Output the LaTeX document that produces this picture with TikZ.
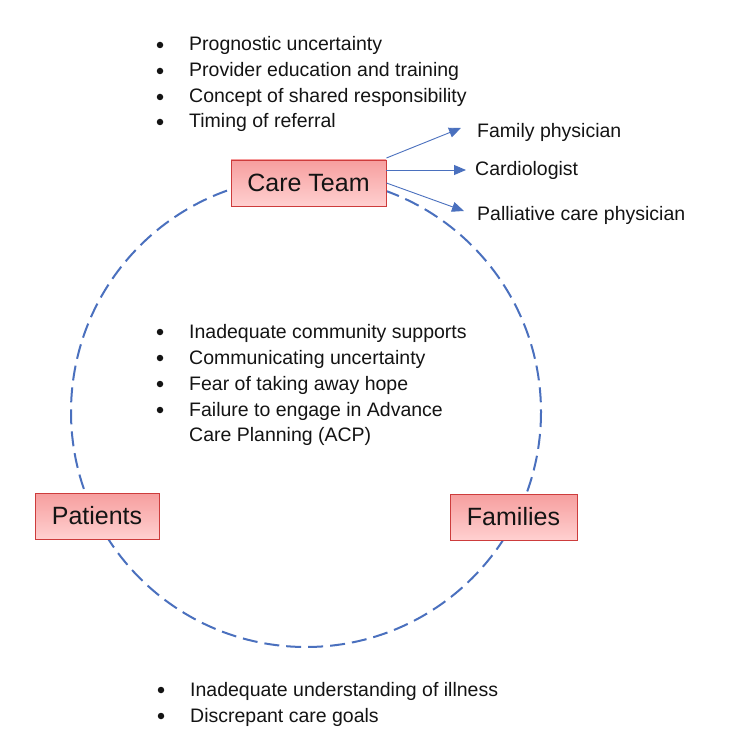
\documentclass[tikz,border=0pt]{standalone}
\usepackage{fontspec}
\setmainfont{Liberation Sans}
\usetikzlibrary{arrows.meta}
\definecolor{cblue}{RGB}{74,112,190}
\definecolor{boxtop}{RGB}{246,158,158}
\definecolor{boxbot}{RGB}{255,208,208}
\definecolor{boxline}{RGB}{205,60,60}
\definecolor{txt}{RGB}{20,20,20}
\begin{document}
\begin{tikzpicture}[x=1pt,y=-1pt,
  bigbox/.style={draw=boxline, line width=0.9pt, top color=boxtop, bottom color=boxbot,
     minimum height=46pt, inner sep=0pt, font=\fontsize{25}{30}\selectfont, text=txt},
  itemtxt/.style={anchor=base west, inner sep=0pt, font=\fontsize{19.5}{24}\selectfont, text=txt},
  bul/.style={circle, fill=txt, inner sep=0pt, minimum size=6.5pt},
  ringline/.style={draw=cblue, line width=2pt, dash pattern=on 15pt off 7pt},
  arr/.style={draw=cblue, line width=0.9pt, -{Triangle[length=12pt,width=10pt]}}
]
\useasboundingbox (0,0) rectangle (744,730);
\fill[white] (0,0) rectangle (744,730);

% dashed ring
\draw[ringline] (306,412) circle[radius=235];

% boxes
\node[bigbox, minimum width=155pt] (care) at (308.5,183) {Care Team};
\node[bigbox, minimum width=124pt] (pat) at (97,516) {Patients};
\node[bigbox, minimum width=127pt] (fam) at (513.5,517) {Families};

% right labels
\node[itemtxt] (fp) at (477,138) {Family physician};
\node[itemtxt] (cd) at (475,176) {Cardiologist};
\node[itemtxt] (pc) at (477,220) {Palliative care physician};
\coordinate (afp) at (461,128);
\coordinate (acd) at (466,170);
\coordinate (apc) at (464,211);
\draw[arr] (care.east |- 0,158) -- (afp);
\draw[arr] (care.east |- 0,170) -- (acd);
\draw[arr] (care.east |- 0,183) -- (apc);

% top list
\node[bul] (b1) at (160,45) {};
\node[itemtxt] (t1) at (189,51) {Prognostic uncertainty};
\node[bul] (b2) at (160,71) {};
\node[itemtxt] (t2) at (189,77) {Provider education and training};
\node[bul] (b3) at (160,97) {};
\node[itemtxt] (t3) at (189,103) {Concept of shared responsibility};
\node[bul] (b4) at (160,122) {};
\node[itemtxt] (t4) at (189,128) {Timing of referral};

% middle list
\node[bul] (m1b) at (160,332) {};
\node[itemtxt] (m1) at (189,338) {Inadequate community supports};
\node[bul] (m2b) at (160,358) {};
\node[itemtxt] (m2) at (189,364) {Communicating uncertainty};
\node[bul] (m3b) at (160,384) {};
\node[itemtxt] (m3) at (189,390) {Fear of taking away hope};
\node[bul] (m4b) at (160,410) {};
\node[itemtxt] (m4) at (189,416) {Failure to engage in Advance};
\node[itemtxt] (m5) at (189,441) {Care Planning (ACP)};

% bottom list
\node[bul] (l1b) at (161,690) {};
\node[itemtxt] (l1) at (190,696) {Inadequate understanding of illness};
\node[bul] (l2b) at (161,716) {};
\node[itemtxt] (l2) at (190,722) {Discrepant care goals};
\end{tikzpicture}
\end{document}
